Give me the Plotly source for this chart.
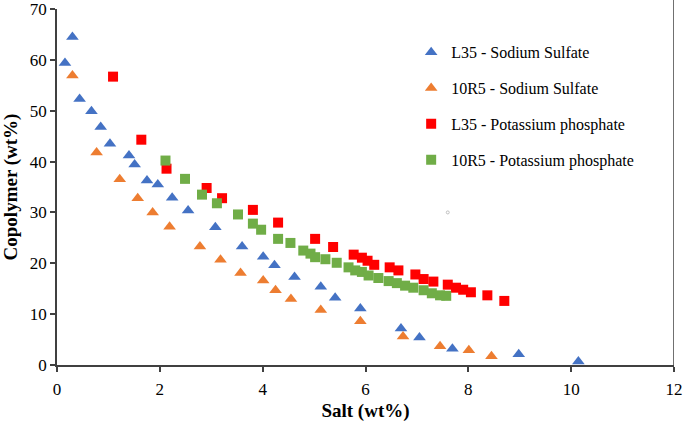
import plotly.graph_objects as go

# L35 - Sodium Sulfate
l35_ss_x = [0.155, 0.30, 0.44, 0.67, 0.85, 1.03, 1.40, 1.51, 1.75, 1.96, 2.24, 2.55, 3.08, 3.60,
            4.01, 4.23, 4.62, 5.13, 5.41, 5.90, 6.69, 7.05, 7.69, 8.98, 10.14]
l35_ss_y = [59.4, 64.5, 52.3, 49.9, 46.8, 43.5, 41.2, 39.4, 36.3, 35.5, 32.9, 30.4, 27.1, 23.3,
            21.3, 19.6, 17.3, 15.4, 13.2, 11.1, 7.2, 5.4, 3.2, 2.1, 0.7]

# 10R5 - Sodium Sulfate
r5_ss_x = [0.30, 0.77, 1.22, 1.57, 1.86, 2.19, 2.78, 3.18, 3.57, 4.01, 4.25, 4.55, 5.13, 5.90,
           6.73, 7.45, 8.01, 8.45]
r5_ss_y = [56.9, 41.8, 36.5, 32.8, 30.0, 27.2, 23.3, 20.7, 18.1, 16.6, 14.7, 13.0, 10.8, 8.6,
           5.6, 3.7, 2.9, 1.7]

# L35 - Potassium phosphate
l35_kp_x = [1.09, 1.64, 2.13, 2.91, 3.21, 3.81, 4.30, 5.02, 5.37, 5.77, 5.93, 6.04, 6.17, 6.47,
            6.64, 6.97, 7.13, 7.32, 7.60, 7.76, 7.90, 8.05, 8.37, 8.70]
l35_kp_y = [56.7, 44.3, 38.6, 34.8, 32.8, 30.5, 28.0, 24.8, 23.2, 21.7, 21.1, 20.5, 19.7, 19.2,
            18.6, 17.8, 16.9, 16.4, 15.8, 15.2, 14.8, 14.3, 13.7, 12.6]

# 10R5 - Potassium phosphate
r5_kp_x = [2.11, 2.49, 2.82, 3.11, 3.52, 3.81, 3.97, 4.30, 4.54, 4.79, 4.93, 5.02, 5.22, 5.44,
           5.67, 5.80, 5.93, 6.06, 6.25, 6.45, 6.61, 6.77, 6.93, 7.13, 7.29, 7.45, 7.57]
r5_kp_y = [40.2, 36.6, 33.5, 31.8, 29.6, 27.8, 26.6, 24.8, 24.0, 22.5, 21.9, 21.2, 20.8, 20.1,
           19.2, 18.6, 18.3, 17.6, 17.1, 16.5, 16.1, 15.6, 15.2, 14.7, 14.1, 13.7, 13.6]

# stray point
stray_x = [7.6]
stray_y = [30.0]

x_ticks = [0, 2, 4, 6, 8, 10, 12]
y_ticks = [0, 10, 20, 30, 40, 50, 60, 70]

FONT = "Liberation Serif"
AX = "#404040"

series = [
    ("L35 - Sodium Sulfate", l35_ss_x, l35_ss_y, "triangle-up", "#4472C4", 11),
    ("10R5 - Sodium Sulfate", r5_ss_x, r5_ss_y, "triangle-up", "#ED7D31", 11),
    ("L35 - Potassium phosphate", l35_kp_x, l35_kp_y, "square", "#FF0000", 10),
    ("10R5 - Potassium phosphate", r5_kp_x, r5_kp_y, "square", "#70AD47", 10),
]

fig = go.Figure()
for i, (name, xs, ys, sym, col, sz) in enumerate(series):
    fig.add_trace(go.Scatter(
        x=xs, y=ys, mode="markers", name=name, legendgroup=f"g{i}",
        marker=dict(symbol=sym, color=col, size=sz, line=dict(width=0)),
    ))

fig.add_trace(go.Scatter(
    x=stray_x, y=stray_y, mode="markers", showlegend=False, hoverinfo="skip",
    marker=dict(symbol="circle-open", color="#BFBFBF", size=3, line=dict(width=1)),
))

fig.add_shape(type="line", xref="x", yref="paper", x0=12, x1=12, y0=-0.012, y1=1.03,
              line=dict(color=AX, width=1.5))

fig.update_layout(
    width=685, height=422,
    margin=dict(l=57, r=11, t=9, b=57, autoexpand=False),
    paper_bgcolor="white", plot_bgcolor="white",
    font=dict(family=FONT, size=16, color="#000000"),
    showlegend=True,
    legend=dict(
        x=0.574, y=0.926, xanchor="left", yanchor="top",
        font=dict(family=FONT, size=16, color="#000000"),
        traceorder="grouped", tracegroupgap=12,
        itemwidth=30, bgcolor="rgba(0,0,0,0)",
    ),
    xaxis=dict(
        range=[0, 12], tickvals=x_ticks, ticktext=[str(v) for v in x_ticks],
        showgrid=False, zeroline=False, showline=True, linecolor=AX, linewidth=1.5,
        ticks="outside", ticklen=5, tickcolor=AX, tickwidth=1.5, automargin=False,
        ticklabelstandoff=3, ticklabeloverflow="allow",
        tickfont=dict(family=FONT, size=17, color="#000000"),
        title=dict(text="<b>Salt (wt%)</b>", font=dict(family=FONT, size=19, color="#000000")),
    ),
    yaxis=dict(
        range=[0, 70], tickvals=y_ticks, ticktext=[str(v) for v in y_ticks],
        showgrid=False, zeroline=False, showline=True, linecolor=AX, linewidth=1.5,
        ticks="outside", ticklen=5, tickcolor=AX, tickwidth=1.5, automargin=False,
        ticklabeloverflow="allow",
        tickfont=dict(family=FONT, size=17, color="#000000"),
        title=dict(text="<b>Copolymer (wt%)</b>", font=dict(family=FONT, size=19, color="#000000")),
    ),
)

fig.write_html("out.html", config={"displayModeBar": False},
               post_script="document.body.style.margin='0';")
